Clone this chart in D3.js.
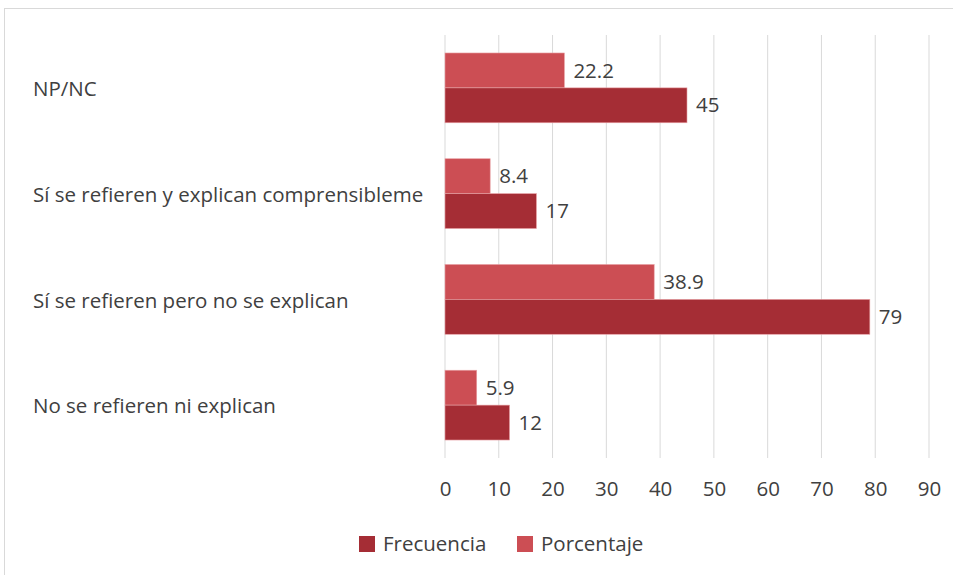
<!DOCTYPE html>
<html>
<head>
<meta charset="utf-8">
<script src="https://cdn.jsdelivr.net/npm/d3@7"></script>
<style>
  body { margin: 0; background: #fff; font-family: "Open Sans", sans-serif; }
</style>
</head>
<body>
<script>
const categories = ["NP/NC", "Sí se refieren y explican comprensibleme", "Sí se refieren pero no se explican", "No se refieren ni explican"];
const frecuencia = [45, 17, 79, 12];
const porcentaje = [22.2, 8.4, 38.9, 5.9];
const seriesNames = ["Porcentaje", "Frecuencia"];
const legendNames = ["Frecuencia", "Porcentaje"];
const xTicks = [0, 10, 20, 30, 40, 50, 60, 70, 80, 90];

const W = 953, H = 575;
const margin = { top: 35, right: 24, bottom: 117, left: 445 };
const width = W - margin.left - margin.right;
const height = H - margin.top - margin.bottom;
const fs = "20.5px";

const color = d3.scaleOrdinal()
  .domain(["Frecuencia", "Porcentaje"])
  .range(["#a52d35", "#cc4e54"]);

const rows = categories.map((c, i) => ({
  cat: c,
  values: [
    { key: "Porcentaje", value: porcentaje[i] },
    { key: "Frecuencia", value: frecuencia[i] }
  ]
}));

const svg = d3.select("body").append("svg")
  .attr("width", W)
  .attr("height", H);

// chart border
svg.append("rect")
  .attr("x", 4.5).attr("y", 8.5)
  .attr("width", W + 10).attr("height", H)
  .attr("fill", "none")
  .attr("stroke", "#d9d9d9");

const g = svg.append("g")
  .attr("transform", "translate(" + margin.left + "," + margin.top + ")");

const x = d3.scaleLinear().domain([0, 90]).range([0, width]);
const y0 = d3.scaleBand().domain(categories).range([0, height]).paddingInner(0.34).paddingOuter(0.17);
const y1 = d3.scaleBand().domain(seriesNames).range([0, y0.bandwidth()]);

// grid lines
g.selectAll(".grid")
  .data(xTicks)
  .enter().append("line")
  .attr("class", "grid")
  .attr("x1", d => x(d)).attr("x2", d => x(d))
  .attr("y1", 0).attr("y2", height)
  .attr("stroke", "#d9d9d9")
  .attr("stroke-width", 1);

// x axis labels
const xAxis = g.append("g")
  .attr("transform", "translate(0," + height + ")")
  .call(d3.axisBottom(x).tickValues(xTicks).tickSize(0).tickPadding(23));
xAxis.select(".domain").remove();
xAxis.selectAll("text")
  .attr("fill", "#404040")
  .style("font-family", "'Open Sans', sans-serif")
  .style("font-size", fs);

// category labels
svg.selectAll(".cat")
  .data(categories)
  .enter().append("text")
  .attr("class", "cat")
  .attr("x", 33)
  .attr("y", d => margin.top + y0(d) + y0.bandwidth() / 2 + 1)
  .attr("dy", ".35em")
  .attr("fill", "#404040")
  .style("font-size", fs)
  .text(d => d);

// bars
const grp = g.selectAll(".grp")
  .data(rows)
  .enter().append("g")
  .attr("transform", d => "translate(0," + y0(d.cat) + ")");

grp.selectAll("rect")
  .data(d => d.values)
  .enter().append("rect")
  .attr("x", x(0))
  .attr("y", d => y1(d.key))
  .attr("width", d => x(d.value) - x(0))
  .attr("height", y1.bandwidth())
  .attr("fill", d => color(d.key))
  .attr("stroke", "#e8a0a4")
  .attr("stroke-width", 0.6);

grp.selectAll(".val")
  .data(d => d.values)
  .enter().append("text")
  .attr("class", "val")
  .attr("x", d => x(d.value) + 9)
  .attr("y", d => y1(d.key) + y1.bandwidth() / 2)
  .attr("dy", ".35em")
  .attr("fill", "#404040")
  .style("font-size", fs)
  .text(d => d.value);

// legend
const legend = svg.selectAll(".legend")
  .data(legendNames)
  .enter().append("g")
  .attr("class", "legend")
  .attr("transform", (d, i) => "translate(" + (359 + i * 158) + ",536)");

legend.append("rect")
  .attr("width", 16).attr("height", 16)
  .attr("fill", d => color(d));

legend.append("text")
  .attr("x", 24)
  .attr("y", 8)
  .attr("dy", ".35em")
  .attr("fill", "#404040")
  .style("font-size", fs)
  .text(d => d);
</script>
</body>
</html>
